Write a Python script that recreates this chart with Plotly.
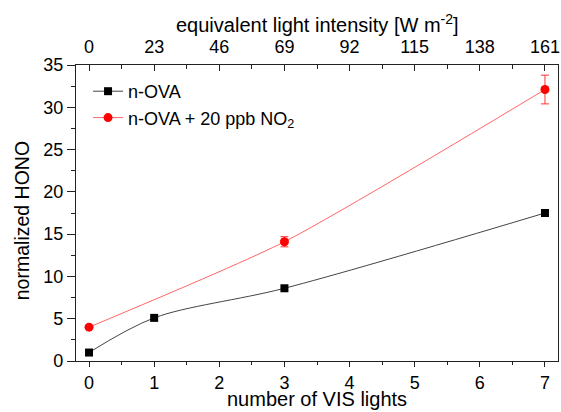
import plotly.graph_objects as go

# number of VIS lights and the equivalent light intensity for each count
lights = [0, 1, 2, 3, 4, 5, 6, 7]
intensity_labels = ["0", "23", "46", "69", "92", "115", "138", "161"]

# normalized HONO, n-OVA alone
ova_x = [0, 1, 3, 7]
ova_y = [1.0, 5.1, 8.6, 17.5]

# normalized HONO, n-OVA + 20 ppb NO2
no2_x = [0, 3, 7]
no2_y = [4.0, 14.1, 32.1]
no2_err = [0.2, 0.6, 1.7]

FONT = "Liberation Sans, Arial, sans-serif"
TICK_SIZE = 18
AXIS_COLOR = "#222222"

W, H = 561, 412
M = dict(l=76, r=1, t=65, b=51)

fig = go.Figure()

fig.add_trace(go.Scatter(
    x=ova_x, y=ova_y, mode="lines+markers", name="n-OVA",
    line=dict(color="#444444", width=1, shape="spline", smoothing=0.9),
    marker=dict(symbol="square", size=8, color="black"),
))

fig.add_trace(go.Scatter(
    x=no2_x, y=no2_y, mode="lines+markers", name="n-OVA + 20 ppb NO<sub>2</sub>",
    line=dict(color="#ff6666", width=1, shape="spline", smoothing=0.6),
    marker=dict(symbol="circle", size=9, color="red"),
    error_y=dict(type="data", array=no2_err, color="#ff3333", thickness=1, width=4),
))

# invisible trace so the top intensity axis is drawn
fig.add_trace(go.Scatter(
    x=lights, y=[None] * len(lights), xaxis="x2", showlegend=False,
    hoverinfo="skip", mode="markers",
))

# frame line on the right side
fig.add_trace(go.Scatter(x=[None], y=[None], yaxis="y2", showlegend=False, hoverinfo="skip"))

tickfont = dict(family=FONT, size=TICK_SIZE, color="black")

fig.update_layout(
    width=W, height=H,
    margin=M,
    paper_bgcolor="white", plot_bgcolor="white",
    font=dict(family=FONT, color="black"),
    xaxis=dict(
        showline=True, linecolor=AXIS_COLOR, linewidth=1.2, showgrid=False,
        zeroline=False, range=[-0.2, 7.2], tickvals=lights,
        ticks="outside", ticklen=5, tickcolor=AXIS_COLOR, tickfont=tickfont,
        ticklabelstandoff=0, ticklabeloverflow="allow",
        minor=dict(ticks="outside", ticklen=3, dtick=0.5, tick0=0, tickcolor=AXIS_COLOR),
    ),
    xaxis2=dict(
        showline=True, linecolor=AXIS_COLOR, linewidth=1.2, showgrid=False,
        zeroline=False, overlaying="x", side="top", matches="x",
        tickvals=lights, ticktext=intensity_labels, ticks="inside", ticklen=6,
        ticklabelstandoff=4, ticklabeloverflow="allow",
        tickcolor=AXIS_COLOR, tickfont=tickfont,
        minor=dict(ticks="inside", ticklen=4, dtick=0.5, tick0=0, tickcolor=AXIS_COLOR),
    ),
    yaxis=dict(
        showline=True, linecolor=AXIS_COLOR, linewidth=1.2, showgrid=False,
        zeroline=False, range=[0, 35], dtick=5,
        ticks="outside", ticklen=8, tickcolor=AXIS_COLOR, tickfont=tickfont,
        minor=dict(ticks="outside", ticklen=4, dtick=2.5, tickcolor=AXIS_COLOR),
    ),
    yaxis2=dict(
        showline=True, linecolor=AXIS_COLOR, linewidth=1.2, overlaying="y",
        side="right", showticklabels=False, ticks="", showgrid=False,
        zeroline=False, range=[0, 35],
    ),
    legend=dict(
        x=0.025, y=0.973, xanchor="left", yanchor="top",
        bgcolor="rgba(0,0,0,0)", font=dict(family=FONT, size=18),
        tracegroupgap=0,
    ),
    showlegend=True,
)


def px_to_paper(x, y):
    pw = W - M["l"] - M["r"]
    ph = H - M["t"] - M["b"]
    return (x - M["l"]) / pw, 1 - (y - M["t"]) / ph


# axis titles placed as annotations in paper coordinates
titles = [
    ("number of VIS lights", 318, 399, 20, 0),
    ("equivalent light intensity [W m<sup>-2</sup>]", 318, 23, 20, 0),
    ("normalized HONO", 22, 221, 19.5, -90),
]
for text, px, py, size, angle in titles:
    ax_, ay_ = px_to_paper(px, py)
    fig.add_annotation(
        text=text, x=ax_, y=ay_, xref="paper", yref="paper",
        xanchor="center", yanchor="middle", showarrow=False, borderpad=0,
        textangle=angle, font=dict(family=FONT, size=size, color="black"),
    )

fig.write_html("out.html")
